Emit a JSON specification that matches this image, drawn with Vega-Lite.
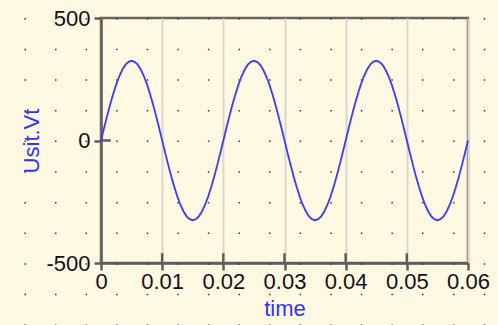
{
  "$schema": "https://vega.github.io/schema/vega-lite/v6.json",
  "width": 367,
  "height": 245,
  "autosize": "none",
  "padding": {"left": 101, "top": 18, "right": 30, "bottom": 62},
  "background": "#fff8e2",
  "config": {
    "font": "Liberation Sans",
    "view": {"stroke": "#66665e", "strokeWidth": 2.5, "fill": null},
    "axis": {
      "labelFont": "Liberation Sans",
      "titleFont": "Liberation Sans",
      "labelFontSize": 22,
      "titleFontSize": 22,
      "titleFontWeight": "normal",
      "labelColor": "#111111",
      "titleColor": "#3232ff",
      "domainColor": "#5e5e58",
      "domainWidth": 2.5,
      "tickColor": "#5e5e58",
      "tickWidth": 2.5,
      "tickSize": 7,
      "gridColor": "#d9d9cf",
      "gridWidth": 2,
      "gridOpacity": 1
    }
  },
  "datasets": {
    "dots": [
      {"x": -0.0124}, {"x": -0.0074}, {"x": -0.0024}, {"x": 0.0026},
      {"x": 0.0076}, {"x": 0.0126}, {"x": 0.0176}, {"x": 0.0226},
      {"x": 0.0276}, {"x": 0.0326}, {"x": 0.0376}, {"x": 0.0426},
      {"x": 0.0476}, {"x": 0.0526}, {"x": 0.0577}, {"x": 0.0627}
    ],
    "xticks": [
      {"x": 0.01}, {"x": 0.02}, {"x": 0.03}, {"x": 0.04}, {"x": 0.05}
    ],
    "yticks": [
      {"y": 0}
    ],
    "wave": [
      {"t": 0, "v": 0}, {"t": 0.0005, "v": 50.9}, {"t": 0.001, "v": 100.5}, {"t": 0.0015, "v": 147.7},
      {"t": 0.002, "v": 191.2}, {"t": 0.0025, "v": 230.0}, {"t": 0.003, "v": 263.2}, {"t": 0.0035, "v": 289.8},
      {"t": 0.004, "v": 309.4}, {"t": 0.0045, "v": 321.3}, {"t": 0.005, "v": 325.3}, {"t": 0.0055, "v": 321.3},
      {"t": 0.006, "v": 309.4}, {"t": 0.0065, "v": 289.8}, {"t": 0.007, "v": 263.2}, {"t": 0.0075, "v": 230.0},
      {"t": 0.008, "v": 191.2}, {"t": 0.0085, "v": 147.7}, {"t": 0.009, "v": 100.5}, {"t": 0.0095, "v": 50.9},
      {"t": 0.01, "v": 0}, {"t": 0.0105, "v": -50.9}, {"t": 0.011, "v": -100.5}, {"t": 0.0115, "v": -147.7},
      {"t": 0.012, "v": -191.2}, {"t": 0.0125, "v": -230.0}, {"t": 0.013, "v": -263.2}, {"t": 0.0135, "v": -289.8},
      {"t": 0.014, "v": -309.4}, {"t": 0.0145, "v": -321.3}, {"t": 0.015, "v": -325.3}, {"t": 0.0155, "v": -321.3},
      {"t": 0.016, "v": -309.4}, {"t": 0.0165, "v": -289.8}, {"t": 0.017, "v": -263.2}, {"t": 0.0175, "v": -230.0},
      {"t": 0.018, "v": -191.2}, {"t": 0.0185, "v": -147.7}, {"t": 0.019, "v": -100.5}, {"t": 0.0195, "v": -50.9},
      {"t": 0.02, "v": 0}, {"t": 0.0205, "v": 50.9}, {"t": 0.021, "v": 100.5}, {"t": 0.0215, "v": 147.7},
      {"t": 0.022, "v": 191.2}, {"t": 0.0225, "v": 230.0}, {"t": 0.023, "v": 263.2}, {"t": 0.0235, "v": 289.8},
      {"t": 0.024, "v": 309.4}, {"t": 0.0245, "v": 321.3}, {"t": 0.025, "v": 325.3}, {"t": 0.0255, "v": 321.3},
      {"t": 0.026, "v": 309.4}, {"t": 0.0265, "v": 289.8}, {"t": 0.027, "v": 263.2}, {"t": 0.0275, "v": 230.0},
      {"t": 0.028, "v": 191.2}, {"t": 0.0285, "v": 147.7}, {"t": 0.029, "v": 100.5}, {"t": 0.0295, "v": 50.9},
      {"t": 0.03, "v": 0}, {"t": 0.0305, "v": -50.9}, {"t": 0.031, "v": -100.5}, {"t": 0.0315, "v": -147.7},
      {"t": 0.032, "v": -191.2}, {"t": 0.0325, "v": -230.0}, {"t": 0.033, "v": -263.2}, {"t": 0.0335, "v": -289.8},
      {"t": 0.034, "v": -309.4}, {"t": 0.0345, "v": -321.3}, {"t": 0.035, "v": -325.3}, {"t": 0.0355, "v": -321.3},
      {"t": 0.036, "v": -309.4}, {"t": 0.0365, "v": -289.8}, {"t": 0.037, "v": -263.2}, {"t": 0.0375, "v": -230.0},
      {"t": 0.038, "v": -191.2}, {"t": 0.0385, "v": -147.7}, {"t": 0.039, "v": -100.5}, {"t": 0.0395, "v": -50.9},
      {"t": 0.04, "v": 0}, {"t": 0.0405, "v": 50.9}, {"t": 0.041, "v": 100.5}, {"t": 0.0415, "v": 147.7},
      {"t": 0.042, "v": 191.2}, {"t": 0.0425, "v": 230.0}, {"t": 0.043, "v": 263.2}, {"t": 0.0435, "v": 289.8},
      {"t": 0.044, "v": 309.4}, {"t": 0.0445, "v": 321.3}, {"t": 0.045, "v": 325.3}, {"t": 0.0455, "v": 321.3},
      {"t": 0.046, "v": 309.4}, {"t": 0.0465, "v": 289.8}, {"t": 0.047, "v": 263.2}, {"t": 0.0475, "v": 230.0},
      {"t": 0.048, "v": 191.2}, {"t": 0.0485, "v": 147.7}, {"t": 0.049, "v": 100.5}, {"t": 0.0495, "v": 50.9},
      {"t": 0.05, "v": 0}, {"t": 0.0505, "v": -50.9}, {"t": 0.051, "v": -100.5}, {"t": 0.0515, "v": -147.7},
      {"t": 0.052, "v": -191.2}, {"t": 0.0525, "v": -230.0}, {"t": 0.053, "v": -263.2}, {"t": 0.0535, "v": -289.8},
      {"t": 0.054, "v": -309.4}, {"t": 0.0545, "v": -321.3}, {"t": 0.055, "v": -325.3}, {"t": 0.0555, "v": -321.3},
      {"t": 0.056, "v": -309.4}, {"t": 0.0565, "v": -289.8}, {"t": 0.057, "v": -263.2}, {"t": 0.0575, "v": -230.0},
      {"t": 0.058, "v": -191.2}, {"t": 0.0585, "v": -147.7}, {"t": 0.059, "v": -100.5}, {"t": 0.0595, "v": -50.9},
      {"t": 0.06, "v": 0}
    ]
  },
  "layer": [
    {
      "data": {"name": "dots"},
      "mark": {"type": "rule", "color": "#3a3a3a", "strokeWidth": 1.5, "strokeDash": [1.5, 29.15], "clip": false},
      "encoding": {
        "x": {
          "field": "x", "type": "quantitative",
          "scale": {"domain": [0, 0.06], "nice": false, "zero": false},
          "axis": {
            "values": [0, 0.01, 0.02, 0.03, 0.04, 0.05, 0.06],
            "format": ".2~f",
            "title": "time",
            "labelPadding": 1,
            "titlePadding": 6,
            "labelFlush": false,
            "labelOverlap": false
          }
        },
        "y": {
          "datum": 500, "type": "quantitative",
          "scale": {"domain": [-500, 500], "nice": false, "zero": false},
          "axis": {
            "values": [-500, 0, 500],
            "labelExpr": "replace(datum.label, '\u2212', '-')",
            "title": "Usit.Vt",
            "labelPadding": 4,
            "titlePadding": 2,
            "labelFlush": false,
            "labelOverlap": false
          }
        },
        "y2": {"datum": -760}
      }
    },
    {
      "data": {"name": "xticks"},
      "mark": {"type": "rule", "color": "#5e5e58", "strokeWidth": 2.5},
      "encoding": {
        "x": {"field": "x", "type": "quantitative", "scale": {"domain": [0, 0.06], "nice": false, "zero": false}},
        "y": {"datum": -500, "type": "quantitative", "scale": {"domain": [-500, 500], "nice": false, "zero": false}},
        "y2": {"datum": -460}
      }
    },
    {
      "data": {"name": "yticks"},
      "mark": {"type": "rule", "color": "#5e5e58", "strokeWidth": 2.5},
      "encoding": {
        "y": {"field": "y", "type": "quantitative", "scale": {"domain": [-500, 500], "nice": false, "zero": false}},
        "x": {"datum": 0, "type": "quantitative", "scale": {"domain": [0, 0.06], "nice": false, "zero": false}},
        "x2": {"datum": 0.0016}
      }
    },
    {
      "data": {"name": "wave"},
      "mark": {"type": "line", "color": "#3c3cff", "strokeWidth": 1.8, "interpolate": "linear"},
      "encoding": {
        "x": {"field": "t", "type": "quantitative", "scale": {"domain": [0, 0.06], "nice": false, "zero": false}},
        "y": {"field": "v", "type": "quantitative", "scale": {"domain": [-500, 500], "nice": false, "zero": false}}
      }
    }
  ]
}
